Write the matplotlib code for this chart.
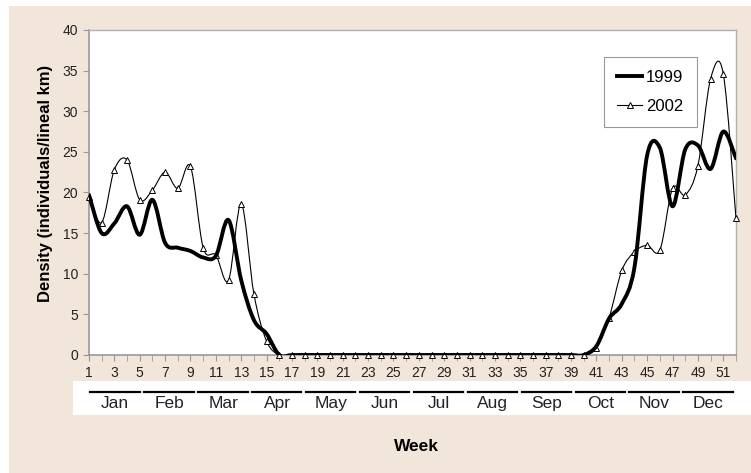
import numpy as np
import matplotlib
matplotlib.use("Agg")
import matplotlib.pyplot as plt
from matplotlib.path import Path
from matplotlib.patches import PathPatch, Rectangle
from matplotlib.lines import Line2D
import matplotlib.transforms as mtransforms

plt.rcParams['font.family'] = ['Liberation Sans', 'DejaVu Sans']

# Datos
weeks = list(range(1, 53))
d1999 = [19.7, 15.0, 16.2, 18.3, 14.8, 19.1, 13.8, 13.2, 12.8, 12.0,
         12.2, 16.6, 9.2, 4.3, 2.6] + [0.0] * 25 + \
        [1.1, 4.5, 6.3, 10.8, 24.6, 25.5, 18.3, 25.3, 25.8, 22.9, 27.5, 24.2]
d2002 = [19.5, 16.3, 22.8, 24.0, 19.1, 20.3, 22.5, 20.5, 23.2, 13.2,
         12.3, 9.2, 18.6, 7.5, 1.7] + [0.0] * 25 + \
        [0.9, 4.6, 10.4, 12.7, 13.5, 12.9, 20.5, 19.7, 23.3, 34.0, 34.6, 16.8]
months = ["Jan", "Feb", "Mar", "Apr", "May", "Jun",
          "Jul", "Aug", "Sep", "Oct", "Nov", "Dec"]

beige = "#F2E6DA"


def smooth_path(x, y):
    """Curva tipo Excel (Catmull-Rom con Bezier cubicas)."""
    pts = np.column_stack([x, y]).astype(float)
    ext = np.vstack([pts[0], pts, pts[-1]])
    verts = [pts[0]]
    codes = [Path.MOVETO]
    for i in range(len(pts) - 1):
        p0, p1, p2, p3 = ext[i], ext[i + 1], ext[i + 2], ext[i + 3]
        c1 = p1 + (p2 - p0) / 6.0
        c2 = p2 - (p3 - p1) / 6.0
        verts += [c1, c2, p2]
        codes += [Path.CURVE4] * 3
    return Path(verts, codes)


fig = plt.figure(figsize=(7.51, 4.73), dpi=100)
fig.patch.set_facecolor("white")
fig.patches.append(Rectangle((0.012, 0.0), 0.988, 0.987, transform=fig.transFigure,
                             facecolor=beige, edgecolor="none", zorder=-2))
# banda blanca de meses
fig.patches.append(Rectangle((0.097, 0.1226), 0.903, 0.0719, transform=fig.transFigure,
                             facecolor="white", edgecolor="none", zorder=-1))

ax = fig.add_axes([0.1185, 0.2495, 0.8615, 0.6871])
ax.set_facecolor("white")

ax.add_patch(PathPatch(smooth_path(weeks, d2002), facecolor="none",
                       edgecolor="black", lw=0.8, zorder=3))
ax.plot(weeks, d2002, linestyle="none", marker="^", markersize=4.5,
        markerfacecolor="white", markeredgecolor="black", markeredgewidth=0.7,
        zorder=4, clip_on=False)
ax.add_patch(PathPatch(smooth_path(weeks, d1999), facecolor="none",
                       edgecolor="black", lw=2.8, zorder=5, capstyle="round",
                       joinstyle="round"))

ax.set_xlim(1, 52)
ax.set_ylim(0, 40)
ax.set_yticks(range(0, 41, 5))
ax.set_xticks(range(1, 52, 2))
ax.set_xticks(range(1, 53), minor=True)
ax.tick_params(axis="both", which="both", direction="out", colors="#999999",
               labelcolor="#222222", labelsize=10)
ax.tick_params(axis="x", which="major", length=4, pad=4)
ax.tick_params(axis="x", which="minor", length=4)
ax.tick_params(axis="y", length=4, pad=4)
for side in ["left", "bottom"]:
    ax.spines[side].set_color("#999999")
    ax.spines[side].set_linewidth(1.2)
for side in ["top", "right"]:
    ax.spines[side].set_color("#b0b0b0")
    ax.spines[side].set_linewidth(1.0)

# meses
trans = mtransforms.blended_transform_factory(ax.transData, fig.transFigure)
span = (52 - 1) / 12.0
for i, m in enumerate(months):
    x0 = 1 + i * span
    x1 = x0 + span
    fig.lines.append(Line2D([x0 + 0.1, x1 - 0.25], [0.171, 0.171], transform=trans,
                            color="black", lw=1.6, zorder=2))
    fig.text((x0 + x1) / 2 - 0.05, 0.146, m, transform=trans, ha="center",
             va="center", fontsize=12.5, color="#222222", zorder=3)

fig.text(0.06, 0.612, "Density (individuals/lineal km)", rotation=90,
         ha="center", va="center", fontsize=12, fontweight="bold")
fig.text(0.555, 0.057, "Week", ha="center", va="center", fontsize=12.5,
         fontweight="bold")

h1 = Line2D([], [], color="black", lw=2.8)
h2 = Line2D([], [], color="black", lw=0.8, marker="^", markersize=4,
            markerfacecolor="white", markeredgewidth=0.7)
leg = ax.legend([h1, h2], ["1999", "2002"], loc="upper right",
                bbox_to_anchor=(0.939, 0.917), borderaxespad=0, fontsize=12,
                handlelength=1.5, handletextpad=0.2, labelspacing=0.8,
                fancybox=False, framealpha=1, borderpad=0.8)
leg.get_frame().set_edgecolor("#999999")
leg.get_frame().set_linewidth(0.8)

fig.savefig("out.png", dpi=100, facecolor=fig.get_facecolor())
